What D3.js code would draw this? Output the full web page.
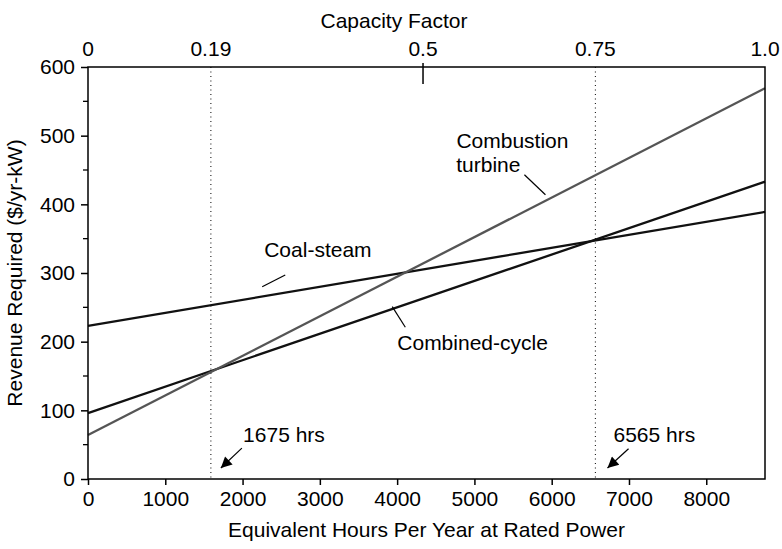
<!DOCTYPE html>
<html><head><meta charset="utf-8">
<script src="https://cdn.jsdelivr.net/npm/d3@7"></script>
<style>
body{margin:0;background:#fff}
svg text{font-family:"Liberation Sans",Arial,Helvetica,sans-serif;fill:#000}
</style>
</head><body><svg id="c" width="782" height="549"></svg>
<script>
// ---- data ----
const hours = [0, 8760];
const coalSteam = [223, 389];
const combinedCycle = [96, 433];
const combustionTurbine = [64, 569];
const seriesNames = ["Coal-steam", "Combined-cycle", "Combustion turbine"];
const xTicks = [0, 1000, 2000, 3000, 4000, 5000, 6000, 7000, 8000];
const yTicks = [0, 100, 200, 300, 400, 500, 600];
const yMinorTicks = [50, 150, 250, 350, 450, 550];
const cfTickHours = [0, 1590, 4335, 6565, 8760];
const cfTickLabels = ["0", "0.19", "0.5", "0.75", "1.0"];
const breakEvenHours = [1590, 6565];
const breakEvenLabels = ["1675 hrs", "6565 hrs"];
// annotation anchors in data units [hours, $/yr-kW]
const breakEvenLabelAt = [[2007, 54], [6800, 54]];
const breakEvenArrowFrom = [[1991, 45], [6994, 44]];
const breakEvenArrowTo = [[1719, 16], [6722, 16]];
const seriesLabelAt = [[2280, 323], [4002, 188], [6217, 482]];
const seriesLeaderFrom = [[2552, 297], [3937, 251], [5647, 443]];
const seriesLeaderTo = [[2254, 280], [4106, 221], [5919, 414]];

// ---- layout ----
const W = 782, H = 549;
const m = {l: 88, r: 17, t: 67, b: 70};
const fs = 21;
const svg = d3.select("#c");
const x = d3.scaleLinear().domain([0, 8760]).range([m.l, W - m.r]);
const y = d3.scaleLinear().domain([0, 600]).range([H - m.b, m.t]);

svg.append("defs").append("marker")
  .attr("id", "ah").attr("viewBox", "0 0 10 10").attr("refX", 10).attr("refY", 5)
  .attr("markerWidth", 13).attr("markerHeight", 11).attr("markerUnits", "userSpaceOnUse")
  .attr("orient", "auto")
  .append("path").attr("d", "M0,0L10,5L0,10Z").attr("fill", "#000");

// dotted break-even lines
svg.selectAll(".be").data(breakEvenHours).enter().append("line")
  .attr("x1", d => x(d)).attr("x2", d => x(d))
  .attr("y1", y(600)).attr("y2", y(0))
  .attr("stroke", "#000").attr("stroke-width", 1).attr("stroke-dasharray", "1,3.5");

// series lines
const seriesVals = [coalSteam, combinedCycle, combustionTurbine];
const seriesColors = ["#111", "#111", "#555"];
const line = d3.line().x(d => x(d[0])).y(d => y(d[1]));
seriesVals.forEach((vals, i) => {
  svg.append("path").datum(hours.map((h, j) => [h, vals[j]]))
    .attr("d", line).attr("fill", "none")
    .attr("stroke", seriesColors[i]).attr("stroke-width", 2.3);
});

// frame
svg.append("rect").attr("x", x(0)).attr("y", y(600))
  .attr("width", x(8760) - x(0)).attr("height", y(0) - y(600))
  .attr("fill", "none").attr("stroke", "#000").attr("stroke-width", 1.5);

// bottom axis
const xa = svg.append("g").attr("transform", `translate(0,${y(0)})`)
  .call(d3.axisBottom(x).tickValues(xTicks).tickFormat(d3.format("d"))
    .tickSize(6).tickSizeOuter(0).tickPadding(6));
xa.select(".domain").remove();
xa.selectAll("line").attr("stroke-width", 1.5);
xa.selectAll("text").attr("font-size", fs).attr("font-family", null);

// left axis
const ya = svg.append("g").attr("transform", `translate(${x(0)},0)`)
  .call(d3.axisLeft(y).tickValues(yTicks).tickFormat(d3.format("d"))
    .tickSize(7).tickSizeOuter(0).tickPadding(6));
ya.select(".domain").remove();
ya.selectAll("line").attr("stroke-width", 1.5);
ya.selectAll("text").attr("font-size", fs).attr("font-family", null);
svg.append("g").selectAll("line").data(yMinorTicks).enter().append("line")
  .attr("x1", x(0) - 5).attr("x2", x(0)).attr("y1", d => y(d)).attr("y2", d => y(d))
  .attr("stroke", "#000").attr("stroke-width", 1.3);

// top capacity-factor axis
svg.append("g").selectAll("text").data(cfTickHours).enter().append("text")
  .attr("x", d => x(d)).attr("y", y(600) - 11).attr("text-anchor", "middle")
  .attr("font-size", fs).text((d, i) => cfTickLabels[i]);
svg.append("line").attr("x1", x(cfTickHours[2])).attr("x2", x(cfTickHours[2]))
  .attr("y1", y(600) - 4).attr("y2", y(600) + 17).attr("stroke", "#000").attr("stroke-width", 1.5);

// titles
svg.append("text").attr("x", 394).attr("y", 28).attr("text-anchor", "middle")
  .attr("font-size", fs).text("Capacity Factor");
svg.append("text").attr("x", (x(0) + x(8760)) / 2).attr("y", 537).attr("text-anchor", "middle")
  .attr("font-size", fs).text("Equivalent Hours Per Year at Rated Power");
svg.append("text").attr("transform", `translate(22,${(y(0) + y(600)) / 2}) rotate(-90)`)
  .attr("text-anchor", "middle").attr("font-size", fs).text("Revenue Required ($/yr-kW)");

// break-even annotations
breakEvenLabels.forEach((t, i) => {
  svg.append("text").attr("x", x(breakEvenLabelAt[i][0])).attr("y", y(breakEvenLabelAt[i][1]))
    .attr("font-size", fs).text(t);
  svg.append("line")
    .attr("x1", x(breakEvenArrowFrom[i][0])).attr("y1", y(breakEvenArrowFrom[i][1]))
    .attr("x2", x(breakEvenArrowTo[i][0])).attr("y2", y(breakEvenArrowTo[i][1]))
    .attr("stroke", "#000").attr("stroke-width", 1.2).attr("marker-end", "url(#ah)");
});

// series labels
const labelLines = [["Coal-steam"], ["Combined-cycle"], ["Combustion", "turbine"]];
const labelAnchor = ["start", "start", "end"];
labelLines.forEach((ls, i) => {
  const tx = svg.append("text").attr("font-size", fs).attr("text-anchor", labelAnchor[i]);
  ls.forEach((s, k) => {
    tx.append("tspan").attr("x", x(seriesLabelAt[i][0]) - (k > 0 ? 48 : 0))
      .attr("y", y(seriesLabelAt[i][1]) + k * 24).text(s);
  });
  svg.append("line")
    .attr("x1", x(seriesLeaderFrom[i][0])).attr("y1", y(seriesLeaderFrom[i][1]))
    .attr("x2", x(seriesLeaderTo[i][0])).attr("y2", y(seriesLeaderTo[i][1]))
    .attr("stroke", "#000").attr("stroke-width", 1.2);
});
</script>
</body></html>
